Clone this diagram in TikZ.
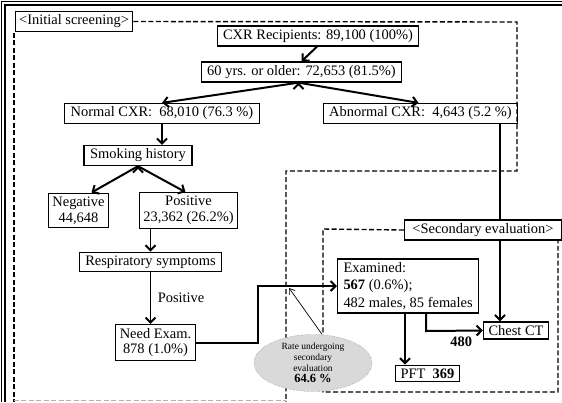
\documentclass[tikz,border=0pt]{standalone}
\usepackage{fontspec}
\setmainfont{Liberation Serif}
\usetikzlibrary{arrows.meta, shapes.geometric}

\tikzset{
  box/.style={draw, line width=1.2pt, fill=white, inner xsep=6pt, inner ysep=3.5pt,
              font=\fontsize{14.5}{16}\selectfont},
  flow/.style={line width=2pt, -{Straight Barb[length=5pt,width=10pt]}},
  zone/.style={line width=1.4pt, dash pattern=on 5pt off 2.5pt},
}

\begin{document}
\begin{tikzpicture}[x=1bp, y=-1bp]
    \useasboundingbox (0,0) rectangle (562,402);

    % outer frame
    \draw[line width=2pt] (5,402) -- (5,5) -- (562,5);
    \draw[line width=0.7pt] (1.5,402) -- (1.5,1.5) -- (562,1.5);

    \node[box, inner xsep=4pt] (init) at (74,21.5) {<Initial screening>};
    \node[box] (cxr) at (318,36) {CXR Recipients: 89,100 (100\%)};
    \node[box] (old) at (301.5,72) {60 yrs. or older: 72,653 (81.5\%)};
    \node[box] (norm) at (162,113.5) {Normal CXR:~ 68,010 (76.3 \%)};
    \node[box] (abn) at (420.5,113.5) {Abnormal CXR:~ 4,643 (5.2 \%)};
    \node[box] (smk) at (138,155.5) {Smoking history};
    \node[box, align=center, inner xsep=4pt] (neg) at (78.5,210.5) {Negative\\44,648};
    \node[box, align=center, inner xsep=4pt] (pos) at (188.5,210.5) {Positive\\23,362 (26.2\%)};
    \node[box] (resp) at (150.5,262) {Respiratory symptoms};
    \node[box, align=center, inner xsep=4pt] (need) at (155.5,342.5) {Need Exam.\\878 (1.0\%)};
    \node[box, inner xsep=8pt] (sec) at (483,230) {<Secondary evaluation>};
    \node[box, align=left, anchor=west, minimum width=141bp, inner xsep=4pt,
          font=\fontsize{14.5}{17.5}\selectfont] (exam) at (337,286)
          {Examined:\\\textbf{567} (0.6\%);\\482 males, 85 females};
    \node[box, inner xsep=5pt] (ct) at (516,330.5) {Chest CT};
    \node[box, inner xsep=5pt] (pft) at (427.5,373.5) {PFT~ \textbf{369}};

    % screening zones
    \draw[zone] (init.east) -- (517,22) -- (517,171) -- (286,171) -- (286,402);
    \draw[zone] (14,33) -- (14,402);
    \draw[zone, gray!60, line width=0.8pt] (14,400) -- (286,400);
    \draw[zone] (sec.west) -- (323,229) -- (323,392) -- (558,392) -- (sec.south -| 558,0);

    \node[ellipse, draw=gray, densely dotted, fill=gray!30, minimum width=118bp, minimum height=57bp,
          inner sep=0pt, align=center, font=\fontsize{9.5}{11}\selectfont] (rate) at (313,363)
          {Rate undergoing\\secondary\\evaluation\\{\fontsize{12.5}{13}\selectfont\bfseries 64.6 \%}};

    \draw[flow] ([xshift=-1bp]cxr.south) -- (old.north);
    \draw[flow] ([xshift=-3bp]old.south) edge (norm.north)
                ([xshift=-3bp]old.south) edge ([xshift=-2bp]abn.north);
    \draw[flow] (norm.south) -- (norm.south |- smk.north);
    \draw[flow] (smk.south) edge ([xshift=13bp]neg.north)
                (smk.south) edge ([xshift=-3bp]pos.north);
    \draw[flow] (resp.north |- pos.south) -- (resp.north);
    \draw[flow] (resp.south) -- node[right=3pt, font=\fontsize{14.5}{16}\selectfont] {Positive}
                (resp.south |- need.north);
    \draw[flow] (need.east) -- (258,342.5) -- (258,286) -- (exam.west);
    \draw[line width=2pt] (abn.south -| 500,0) -- (sec.north -| 500,0);
    \draw[flow] (sec.south -| 500,0) -- (ct.north -| 500,0);
    \draw[flow] (exam.south -| 426,0) -- (426,331) -- (ct.west)
                node[pos=0.62, below=2pt, font=\fontsize{14.5}{16}\selectfont\bfseries] {480};
    \draw[flow] (exam.south -| 405,0) -- (pft.north -| 405,0);
    \draw[line width=0.7pt, -{Straight Barb[length=5pt,width=7pt]}] ([xshift=9bp]rate.north) -- (289,288);
\end{tikzpicture}
\end{document}
